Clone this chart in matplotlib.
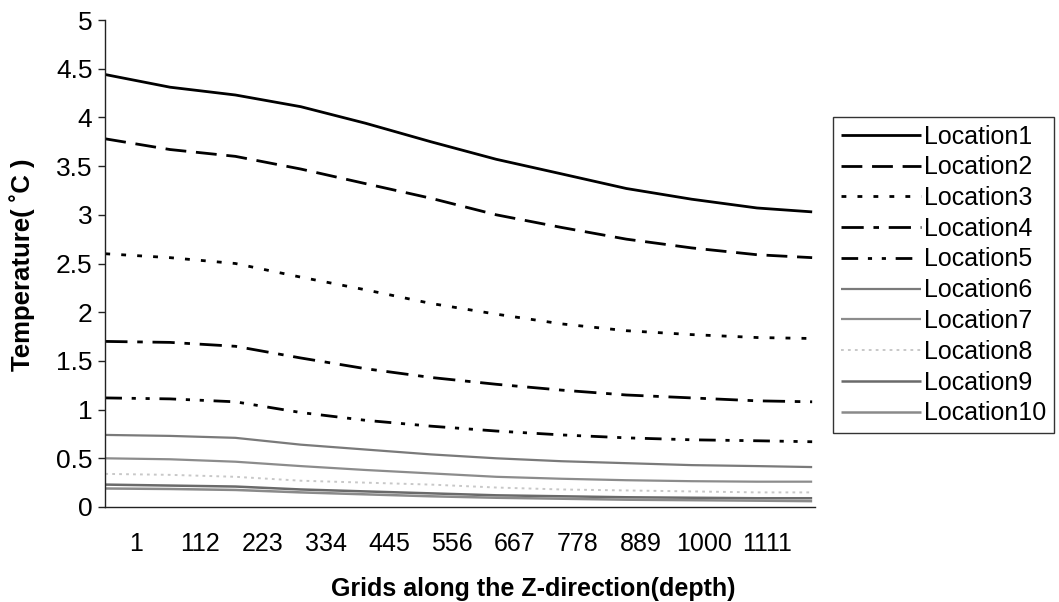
import matplotlib
matplotlib.use("Agg")
import matplotlib.pyplot as plt
from matplotlib import font_manager
from matplotlib.ticker import FixedLocator, FuncFormatter, MultipleLocator

# ---- data ----
# grid index of each sampled point (depth grid along Z)
grid = [1, 115, 230, 345, 459, 574, 689, 804, 918, 1033, 1148, 1245]
# Excel-style category labels, each centred on its group of 111 grids
tick_labels = ["1", "112", "223", "334", "445", "556", "667", "778", "889", "1000", "1111"]
tick_pos = [56, 167, 278, 389, 500, 611, 722, 833, 944, 1055, 1166]

loc1 = [4.44, 4.31, 4.23, 4.11, 3.94, 3.75, 3.57, 3.42, 3.27, 3.16, 3.07, 3.03]
loc2 = [3.78, 3.67, 3.60, 3.47, 3.32, 3.17, 3.00, 2.87, 2.75, 2.66, 2.59, 2.56]
loc3 = [2.60, 2.56, 2.50, 2.36, 2.23, 2.09, 1.98, 1.88, 1.81, 1.77, 1.74, 1.73]
loc4 = [1.70, 1.69, 1.65, 1.53, 1.42, 1.33, 1.26, 1.20, 1.15, 1.12, 1.09, 1.08]
loc5 = [1.12, 1.11, 1.08, 0.97, 0.89, 0.83, 0.78, 0.74, 0.71, 0.69, 0.68, 0.67]
loc6 = [0.74, 0.73, 0.71, 0.64, 0.59, 0.54, 0.50, 0.47, 0.45, 0.43, 0.42, 0.41]
loc7 = [0.50, 0.49, 0.465, 0.42, 0.38, 0.345, 0.31, 0.29, 0.275, 0.265, 0.26, 0.26]
loc8 = [0.34, 0.33, 0.31, 0.27, 0.25, 0.23, 0.20, 0.18, 0.17, 0.16, 0.15, 0.15]
loc9 = [0.23, 0.22, 0.21, 0.18, 0.16, 0.14, 0.12, 0.11, 0.10, 0.095, 0.09, 0.09]
loc10 = [0.19, 0.185, 0.175, 0.15, 0.13, 0.11, 0.095, 0.085, 0.075, 0.07, 0.065, 0.06]

series = [loc1, loc2, loc3, loc4, loc5, loc6, loc7, loc8, loc9, loc10]
names = ["Location%d" % i for i in range(1, 11)]

# ---- styles ----
styles = [
    dict(color="black", lw=2.0, ls="-"),
    dict(color="black", lw=2.0, ls=(0, (15, 7))),
    dict(color="black", lw=2.0, ls=(0, (3.5, 8))),
    dict(color="black", lw=2.0, ls=(0, (16, 7, 4, 7))),
    dict(color="black", lw=2.0, ls=(0, (12, 7, 3, 7, 3, 7))),
    dict(color="#7a7a7a", lw=1.6, ls="-"),
    dict(color="#8c8c8c", lw=1.6, ls="-"),
    dict(color="#c8c8c8", lw=1.4, ls=(0, (2, 3))),
    dict(color="#6a6a6a", lw=1.8, ls="-"),
    dict(color="#8a8a8a", lw=1.8, ls="-"),
]

plt.rcParams["lines.scale_dashes"] = False
avail = {f.name for f in font_manager.fontManager.ttflist}
base = "Liberation Sans" if "Liberation Sans" in avail else "DejaVu Sans"
narrow = "Liberation Sans Narrow" if "Liberation Sans Narrow" in avail else base
plt.rcParams["font.family"] = [base, "DejaVu Sans"]

fig = plt.figure(figsize=(10.59, 6.02), dpi=100)
ax = fig.add_axes([105 / 1059, 95 / 602, 710 / 1059, 487 / 602])

for ys, nm, st in zip(series, names, styles):
    ax.plot(grid, ys, label=nm, color=st["color"], lw=st["lw"], linestyle=st["ls"],
            solid_capstyle="butt", dash_capstyle="butt")

ax.set_xlim(0.5, 1250)
ax.set_ylim(0, 5)
ax.yaxis.set_major_locator(MultipleLocator(0.5))
ax.yaxis.set_major_formatter(FuncFormatter(lambda v, p: "%g" % v))
ax.xaxis.set_major_locator(FixedLocator(tick_pos))
ax.set_xticklabels(tick_labels)

for s in ["top", "right"]:
    ax.spines[s].set_visible(False)
for s in ["left", "bottom"]:
    ax.spines[s].set_color("#222222")
    ax.spines[s].set_linewidth(1.0)

ax.tick_params(axis="y", direction="out", length=5, width=1, pad=4, labelsize=19, color="#222222")
ax.tick_params(axis="x", length=0, pad=18, labelsize=18)
for t in ax.get_xticklabels():
    t.set_family([narrow, "DejaVu Sans"])

fig.text(22 / 1059, 1 - 265 / 602, "Temperature( \u02daC )", fontsize=18.5, fontweight="bold",
         rotation=90, ha="center", va="center")
fig.text(533 / 1059, 1 - 589 / 602, "Grids along the Z-direction(depth)", fontsize=18,
         fontweight="bold", family=[narrow, "DejaVu Sans"], ha="center", va="center")

leg = fig.legend(loc="upper left", bbox_to_anchor=(833 / 1059, 1 - 117 / 602), fontsize=18,
                 frameon=True, fancybox=False, shadow=False, handlelength=3.2,
                 handletextpad=0.15, labelspacing=0.27, borderpad=0.3, borderaxespad=0)
leg.get_frame().set_edgecolor("black")
leg.get_frame().set_linewidth(1.0)

fig.savefig("out.png", dpi=100)
